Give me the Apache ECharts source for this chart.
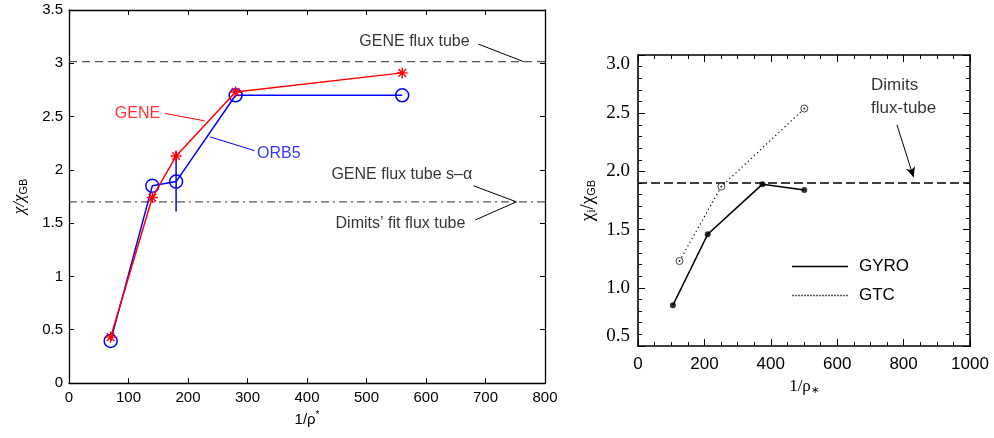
<!DOCTYPE html>
<html>
<head>
<meta charset="utf-8">
<script src="https://cdn.jsdelivr.net/npm/echarts@6/dist/echarts.min.js"></script>
<style>
html,body{margin:0;padding:0;background:#fff;}
#c{width:994px;height:438px;}
</style>
</head>
<body>
<div id="c"></div>
<script>
// ---------- Left panel data ----------
var leftX = [70, 140, 180, 280, 560];
var geneY = [0.43, 1.74, 2.13, 2.73, 2.91];
var orb5Y = [0.395, 1.85, 1.89, 2.70, 2.70];
var orb5ErrX = [180, 180];
var orb5ErrY = [1.61, 2.175];
var leftXRange = [0, 800];
var geneFluxTube = 3.015;
var dimitsFitFluxTube = 1.70;
var leftXTicks = [0, 100, 200, 300, 400, 500, 600, 700, 800];
var leftYTicks = [0, 0.5, 1, 1.5, 2, 2.5, 3, 3.5];

// annotation leaders (data coords)
var leaderFluxTube = [[688, 3.18], [764, 3.015]];
var leaderGene = [[161, 2.53], [228, 2.46]];
var leaderOrb5 = [[312, 2.18], [237, 2.31]];
var leaderSAlpha = [[680, 1.85], [752, 1.70]];
var leaderDimits = [[683, 1.53], [752, 1.70]];
var leftTexts = [
  {x: 488, y: 3.20, text: 'GENE flux tube', color: '#000'},
  {x: 77, y: 2.53, text: 'GENE', color: '#ff0000'},
  {x: 316, y: 2.15, text: 'ORB5', color: '#0000ff'},
  {x: 441, y: 1.96, text: 'GENE flux tube s\u2013\u03b1', color: '#000'},
  {x: 448, y: 1.50, text: 'Dimits\u2019 fit flux tube', color: '#000'}
];

// ---------- Right panel data ----------
var gyroX = [105, 210, 375, 501];
var gyroY = [0.85, 1.46, 1.89, 1.84];
var gtcX = [125, 251, 501];
var gtcY = [1.23, 1.87, 2.54];
var rightXRange = [0, 1000];
var dimitsFluxTube = 1.90;
var dimitsArrow = [[780, 2.40], [830, 1.95]];
var rightTexts = [
  {x: 702, y: 2.74, text: 'Dimits'},
  {x: 702, y: 2.54, text: 'flux-tube'}
];

function zip(xs, ys) { return xs.map(function (x, i) { return [x, ys[i]]; }); }

var SANS = 'Liberation Sans';
var SERIF = 'Liberation Serif';

var chart = echarts.init(document.getElementById('c'), null, {renderer: 'canvas'});

function leaderSeries(data, color) {
  return {
    type: 'line', xAxisIndex: 0, yAxisIndex: 0, data: data, symbol: 'none', silent: true,
    lineStyle: {color: color, width: 1}, z: 3
  };
}
function textSeries(items, xi, yi, font, size) {
  return {
    type: 'scatter', xAxisIndex: xi, yAxisIndex: yi, symbolSize: 0, silent: true,
    data: items.map(function (t) {
      return {value: [t.x, t.y], label: {show: true, position: 'right', distance: 0,
        formatter: t.text, color: t.color || '#000', fontFamily: font, fontSize: size}};
    })
  };
}

var asterisk = 'path://M0,-10L0,10M-10,0L10,0M-7,-7L7,7M-7,7L7,-7';

// legend icons: solid line and dotted line
var solidIcon = 'path://M0,0H56V1.6H0Z';
var dotPath = '';
for (var k = 0; k < 56; k += 3) { dotPath += 'M' + k + ',0h1.3v1.6h-1.3Z'; }
var dottedIcon = 'path://' + dotPath;

var axisLineBlack = {show: true, onZero: false, lineStyle: {color: '#000', width: 1.3}};
var noComma = function (v) { return String(v); };

var option = {
  backgroundColor: '#fff',
  animation: false,
  grid: [
    {left: 69, top: 10, width: 476, height: 373},
    {left: 638, top: 55, width: 332, height: 291}
  ],
  legend: {
    data: [{name: 'GYRO', icon: solidIcon}, {name: 'GTC', icon: dottedIcon}],
    orient: 'vertical',
    left: 787, top: 252,
    itemWidth: 56, itemHeight: 1.6, itemGap: 10,
    textStyle: {fontFamily: SANS, fontSize: 17, color: '#000', padding: [0, 0, 0, 6], lineHeight: 19},
    selectedMode: false
  },
  xAxis: [
    {gridIndex: 0, type: 'value', position: 'bottom', min: leftXRange[0], max: leftXRange[1], interval: 100,
      axisLine: axisLineBlack, splitLine: {show: false},
      axisTick: {inside: true, length: 5, lineStyle: {color: '#000'}},
      axisLabel: {fontFamily: SANS, fontSize: 15, color: '#000', margin: 7, formatter: noComma},
      name: '{a|1/\u03c1}{s|*}', nameLocation: 'middle', nameGap: 22,
      nameTextStyle: {rich: {a: {fontFamily: SANS, fontSize: 15, color: '#000'}, s: {fontFamily: SANS, fontSize: 10, color: '#000', padding: [0, 0, 9, 0]}}}},
    {gridIndex: 0, type: 'value', position: 'top', min: leftXRange[0], max: leftXRange[1], interval: 100,
      axisLine: axisLineBlack, splitLine: {show: false},
      axisTick: {inside: true, length: 5, lineStyle: {color: '#000'}}, axisLabel: {show: false}},
    {gridIndex: 1, type: 'value', position: 'bottom', min: rightXRange[0], max: rightXRange[1], interval: 200,
      axisLine: {show: true, onZero: false, lineStyle: {color: '#000', width: 1.6}}, splitLine: {show: false},
      axisTick: {inside: true, length: 7, lineStyle: {color: '#000'}},
      minorTick: {show: true, splitNumber: 4, length: 4, lineStyle: {color: '#000'}},
      axisLabel: {fontFamily: SANS, fontSize: 17, color: '#000', margin: 10, formatter: noComma},
      name: '{a|1/\u03c1}{s|\u2217}', nameLocation: 'middle', nameGap: 30,
      nameTextStyle: {rich: {a: {fontFamily: SERIF, fontSize: 17, color: '#000'}, s: {fontFamily: SERIF, fontSize: 10, color: '#000', padding: [7, 0, 0, 0]}}}},
    {gridIndex: 1, type: 'value', position: 'top', min: rightXRange[0], max: rightXRange[1], interval: 200,
      axisLine: {show: true, onZero: false, lineStyle: {color: '#000', width: 1.6}}, splitLine: {show: false},
      axisTick: {inside: true, length: 7, lineStyle: {color: '#000'}},
      minorTick: {show: true, splitNumber: 4, length: 4, lineStyle: {color: '#000'}},
      axisLabel: {show: false}}
  ],
  yAxis: [
    {gridIndex: 0, type: 'value', position: 'left', min: 0, max: 3.5, interval: 0.5,
      axisLine: axisLineBlack, splitLine: {show: false},
      axisTick: {inside: true, length: 5, lineStyle: {color: '#000'}},
      axisLabel: {fontFamily: SANS, fontSize: 15, color: '#000', margin: 6},
      name: '{a|\u03c7/\u03c7}{s|GB}', nameLocation: 'middle', nameGap: 40, nameRotate: 90,
      nameTextStyle: {rich: {a: {fontFamily: SERIF, fontStyle: 'italic', fontSize: 17, color: '#000'}, s: {fontFamily: SANS, fontSize: 11, color: '#000', padding: [8, 0, 0, 0]}}}},
    {gridIndex: 0, type: 'value', position: 'right', min: 0, max: 3.5, interval: 0.5,
      axisLine: axisLineBlack, splitLine: {show: false},
      axisTick: {inside: true, length: 5, lineStyle: {color: '#000'}}, axisLabel: {show: false}},
    {gridIndex: 1, type: 'value', position: 'left', min: 0.5, max: 3.0, interval: 0.5,
      axisLine: {show: true, onZero: false, lineStyle: {color: '#000', width: 1.6}}, splitLine: {show: false},
      axisTick: {inside: true, length: 7, lineStyle: {color: '#000'}},
      minorTick: {show: true, splitNumber: 5, length: 4, lineStyle: {color: '#000'}},
      axisLabel: {fontFamily: SERIF, fontSize: 19, color: '#000', margin: 8,
        formatter: function (v) { return v.toFixed(1); },
        verticalAlignMaxLabel: 'top', verticalAlignMinLabel: 'bottom'},
      name: '{a|\u03c7}{i|i}{a|/\u03c7}{s|GB}', nameLocation: 'middle', nameGap: 40, nameRotate: 90,
      nameTextStyle: {rich: {a: {fontFamily: SERIF, fontSize: 19, color: '#000'}, i: {fontFamily: SERIF, fontSize: 12, color: '#000', padding: [8, 0, 0, 0]}, s: {fontFamily: SANS, fontSize: 11, color: '#000', padding: [8, 0, 0, 0]}}}},
    {gridIndex: 1, type: 'value', position: 'right', min: 0.5, max: 3.0, interval: 0.5,
      axisLine: {show: true, onZero: false, lineStyle: {color: '#000', width: 1.6}}, splitLine: {show: false},
      axisTick: {inside: true, length: 7, lineStyle: {color: '#000'}},
      minorTick: {show: true, splitNumber: 5, length: 4, lineStyle: {color: '#000'}},
      axisLabel: {show: false}}
  ],
  series: [
    // ---- left panel ----
    {type: 'line', name: 'GENE flux tube', xAxisIndex: 0, yAxisIndex: 0, symbol: 'none', silent: true,
      data: leftXRange.map(function (x) { return [x, geneFluxTube]; }),
      lineStyle: {color: '#555', width: 1.3, type: [8, 5]}, z: 1},
    {type: 'line', name: 'Dimits fit', xAxisIndex: 0, yAxisIndex: 0, symbol: 'none', silent: true,
      data: leftXRange.map(function (x) { return [x, dimitsFitFluxTube]; }),
      lineStyle: {color: '#555', width: 1.3, type: [8, 4, 2, 4]}, z: 1},
    {type: 'line', name: 'ORB5 err', xAxisIndex: 0, yAxisIndex: 0, symbol: 'none', silent: true,
      data: zip(orb5ErrX, orb5ErrY), lineStyle: {color: '#0000ff', width: 1.5}, z: 4},
    {type: 'line', name: 'ORB5', xAxisIndex: 0, yAxisIndex: 0, data: zip(leftX, orb5Y),
      symbol: 'circle', symbolSize: 13, showAllSymbol: true,
      itemStyle: {color: 'rgba(0,0,0,0)', borderColor: '#0000ff', borderWidth: 1.5},
      lineStyle: {color: '#0000ff', width: 1.5}, z: 4},
    {type: 'line', name: 'GENE', xAxisIndex: 0, yAxisIndex: 0, data: zip(leftX, geneY),
      symbol: asterisk, symbolSize: 11, showAllSymbol: true,
      itemStyle: {color: '#ff0000', borderColor: '#ff0000', borderWidth: 1.4},
      lineStyle: {color: '#ff0000', width: 1.5}, z: 5},
    leaderSeries(leaderFluxTube, '#000'),
    leaderSeries(leaderSAlpha, '#000'),
    leaderSeries(leaderDimits, '#000'),
    leaderSeries(leaderGene, '#ff0000'),
    leaderSeries(leaderOrb5, '#0000ff'),
    textSeries(leftTexts, 0, 0, SANS, 16),
    // ---- right panel ----
    {type: 'line', name: 'Dimits flux-tube', xAxisIndex: 2, yAxisIndex: 2, symbol: 'none', silent: true,
      data: rightXRange.map(function (x) { return [x, dimitsFluxTube]; }),
      lineStyle: {color: '#000', width: 1.5, type: [9, 4]}, z: 1,
      markLine: {silent: true, symbol: ['none', 'arrow'], symbolSize: [7, 10], label: {show: false},
        lineStyle: {color: '#000', width: 1, type: 'solid'},
        data: [[{coord: dimitsArrow[0]}, {coord: dimitsArrow[1]}]]}},
    {type: 'line', name: 'GYRO', xAxisIndex: 2, yAxisIndex: 2, data: zip(gyroX, gyroY), symbol: 'none',
      lineStyle: {color: '#000', width: 1.6}, itemStyle: {color: '#000'}, z: 3},
    {type: 'line', name: 'GTC', xAxisIndex: 2, yAxisIndex: 2, data: zip(gtcX, gtcY), symbol: 'none',
      lineStyle: {color: '#000', width: 1.2, type: [1.2, 3]}, itemStyle: {color: '#000'}, z: 3},
    {type: 'scatter', name: 'GYRO pts', xAxisIndex: 2, yAxisIndex: 2, data: zip(gyroX, gyroY),
      symbol: 'circle', symbolSize: 6, itemStyle: {color: '#000'}, z: 4, silent: true},
    {type: 'scatter', name: 'GTC pts', xAxisIndex: 2, yAxisIndex: 2, data: zip(gtcX, gtcY),
      symbol: 'circle', symbolSize: 7, itemStyle: {color: '#fff', borderColor: '#000', borderWidth: 0.9}, z: 4, silent: true},
    {type: 'scatter', name: 'GTC dots', xAxisIndex: 2, yAxisIndex: 2, data: zip(gtcX, gtcY),
      symbol: 'circle', symbolSize: 2, itemStyle: {color: '#000'}, z: 5, silent: true},
    textSeries(rightTexts, 2, 2, SANS, 17)
  ]
};
chart.setOption(option);
</script>
</body>
</html>
